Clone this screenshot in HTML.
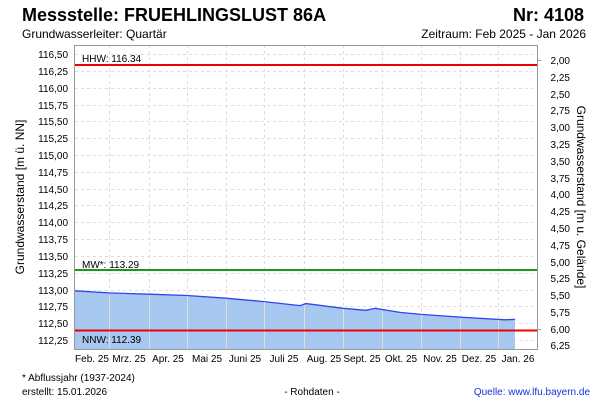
<!DOCTYPE html><html><head><style>body{margin:0;background:#fff}svg text{font-family:"Liberation Sans",sans-serif}</style></head><body>
<svg width="600" height="400" xmlns="http://www.w3.org/2000/svg">
<rect width="600" height="400" fill="#fff"/>
<text x="22" y="21" font-size="18" font-weight="bold">Messstelle: FRUEHLINGSLUST 86A</text>
<text x="584" y="21" font-size="18" font-weight="bold" text-anchor="end">Nr: 4108</text>
<text x="22" y="38" font-size="12">Grundwasserleiter: Quartär</text>
<text x="586" y="38" font-size="12" text-anchor="end">Zeitraum: Feb 2025 - Jan 2026</text>
<g stroke="#ddd" stroke-dasharray="3,3" stroke-width="1">
<line x1="75" x2="537" y1="54.5" y2="54.5"/><line x1="75" x2="537" y1="71.5" y2="71.5"/><line x1="75" x2="537" y1="88.5" y2="88.5"/><line x1="75" x2="537" y1="105.5" y2="105.5"/><line x1="75" x2="537" y1="121.5" y2="121.5"/><line x1="75" x2="537" y1="138.5" y2="138.5"/><line x1="75" x2="537" y1="155.5" y2="155.5"/><line x1="75" x2="537" y1="172.5" y2="172.5"/><line x1="75" x2="537" y1="189.5" y2="189.5"/><line x1="75" x2="537" y1="205.5" y2="205.5"/><line x1="75" x2="537" y1="222.5" y2="222.5"/><line x1="75" x2="537" y1="239.5" y2="239.5"/><line x1="75" x2="537" y1="256.5" y2="256.5"/><line x1="75" x2="537" y1="273.5" y2="273.5"/><line x1="75" x2="537" y1="290.5" y2="290.5"/><line x1="75" x2="537" y1="306.5" y2="306.5"/><line x1="75" x2="537" y1="323.5" y2="323.5"/><line x1="75" x2="537" y1="340.5" y2="340.5"/>
<line y1="45" y2="349" x1="109.5" x2="109.5"/><line y1="45" y2="349" x1="149.5" x2="149.5"/><line y1="45" y2="349" x1="187.5" x2="187.5"/><line y1="45" y2="349" x1="226.5" x2="226.5"/><line y1="45" y2="349" x1="264.5" x2="264.5"/><line y1="45" y2="349" x1="304.5" x2="304.5"/><line y1="45" y2="349" x1="343.5" x2="343.5"/><line y1="45" y2="349" x1="382.5" x2="382.5"/><line y1="45" y2="349" x1="421.5" x2="421.5"/><line y1="45" y2="349" x1="460.5" x2="460.5"/><line y1="45" y2="349" x1="498.5" x2="498.5"/>
</g>
<polygon fill="#a5c7f0" points="75,290.8 109,292.9 149,294.2 187,295.5 226,298.2 264,301.6 300,305.6 306,303.6 343,308.3 366,310.3 375,308.3 400,312.4 421,314.4 460,317.1 505,319.8 515,319.4 515,349 75,349"/>
<polyline fill="none" stroke="#3344ee" stroke-width="1.3" points="75,290.8 109,292.9 149,294.2 187,295.5 226,298.2 264,301.6 300,305.6 306,303.6 343,308.3 366,310.3 375,308.3 400,312.4 421,314.4 460,317.1 505,319.8 515,319.4"/>
<g stroke="#ddd" stroke-width="1"><line y1="295" y2="349" x1="109.5" x2="109.5"/><line y1="295" y2="349" x1="149.5" x2="149.5"/><line y1="296" y2="349" x1="187.5" x2="187.5"/><line y1="299" y2="349" x1="226.5" x2="226.5"/><line y1="302" y2="349" x1="264.5" x2="264.5"/><line y1="305" y2="349" x1="304.5" x2="304.5"/><line y1="309" y2="349" x1="343.5" x2="343.5"/><line y1="311" y2="349" x1="382.5" x2="382.5"/><line y1="315" y2="349" x1="421.5" x2="421.5"/><line y1="318" y2="349" x1="460.5" x2="460.5"/><line y1="320" y2="349" x1="498.5" x2="498.5"/></g>
<line x1="75" x2="537" y1="65" y2="65" stroke="#e00" stroke-width="2"/>
<line x1="75" x2="537" y1="270" y2="270" stroke="#1a9a1a" stroke-width="2"/>
<line x1="75" x2="537" y1="330.5" y2="330.5" stroke="#e00" stroke-width="2"/>
<text x="82" y="62" font-size="10">HHW: 116.34</text>
<text x="82" y="268" font-size="10">MW*: 113.29</text>
<text x="82" y="343" font-size="10">NNW: 112.39</text>
<rect x="74.5" y="45.5" width="463" height="304" fill="none" stroke="#999"/>
<g font-size="10" text-anchor="end">
<text x="68" y="58">116,50</text><text x="68" y="75">116,25</text><text x="68" y="92">116,00</text><text x="68" y="109">115,75</text><text x="68" y="125">115,50</text><text x="68" y="142">115,25</text><text x="68" y="159">115,00</text><text x="68" y="176">114,75</text><text x="68" y="193">114,50</text><text x="68" y="209">114,25</text><text x="68" y="226">114,00</text><text x="68" y="243">113,75</text><text x="68" y="260">113,50</text><text x="68" y="277">113,25</text><text x="68" y="294">113,00</text><text x="68" y="310">112,75</text><text x="68" y="327">112,50</text><text x="68" y="344">112,25</text>
</g>
<g font-size="10" text-anchor="end">
<text x="570" y="64">2,00</text><text x="570" y="81">2,25</text><text x="570" y="98">2,50</text><text x="570" y="114">2,75</text><text x="570" y="131">3,00</text><text x="570" y="148">3,25</text><text x="570" y="165">3,50</text><text x="570" y="182">3,75</text><text x="570" y="198">4,00</text><text x="570" y="215">4,25</text><text x="570" y="232">4,50</text><text x="570" y="249">4,75</text><text x="570" y="266">5,00</text><text x="570" y="282">5,25</text><text x="570" y="299">5,50</text><text x="570" y="316">5,75</text><text x="570" y="333">6,00</text><text x="570" y="349">6,25</text>
</g>
<g stroke="#999"><line x1="537" x2="541" y1="60.5" y2="60.5"/><line x1="537" x2="541" y1="329.5" y2="329.5"/></g>
<text transform="translate(24,197) rotate(-90)" font-size="12" text-anchor="middle">Grundwasserstand [m ü. NN]</text>
<text transform="translate(577,197) rotate(90)" font-size="12" text-anchor="middle">Grundwasserstand [m u. Gelände]</text>
<g font-size="10" text-anchor="middle">
<text x="92" y="362">Feb. 25</text><text x="129" y="362">Mrz. 25</text><text x="168" y="362">Apr. 25</text><text x="207" y="362">Mai 25</text><text x="245" y="362">Juni 25</text><text x="284" y="362">Juli 25</text><text x="324" y="362">Aug. 25</text><text x="362" y="362">Sept. 25</text><text x="401" y="362">Okt. 25</text><text x="440" y="362">Nov. 25</text><text x="479" y="362">Dez. 25</text><text x="518" y="362">Jan. 26</text>
</g>
<text x="22" y="381" font-size="10">* Abflussjahr (1937-2024)</text>
<text x="22" y="395" font-size="10">erstellt:  15.01.2026</text>
<text x="312" y="395" font-size="10" text-anchor="middle">- Rohdaten -</text>
<text x="590" y="395" font-size="10" text-anchor="end" fill="#1133dd">Quelle: www.lfu.bayern.de</text>
</svg></body></html>
